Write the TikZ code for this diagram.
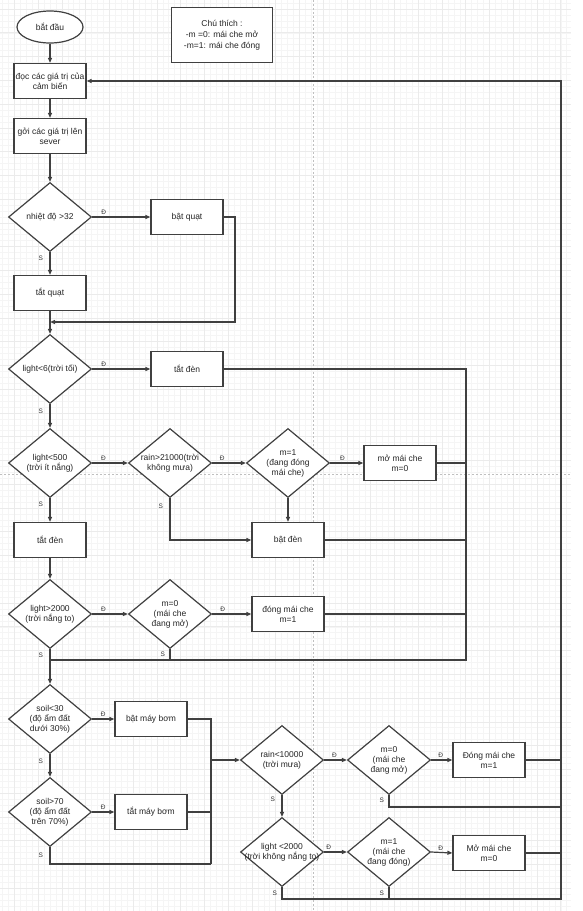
\documentclass[tikz,border=0pt]{standalone}
\usepackage{fontspec}
\setmainfont{Liberation Sans}
\usetikzlibrary{arrows.meta,shapes.geometric,positioning,calc}

\tikzset{
  box/.style={draw=black!75, line width=1.2pt, fill=white, minimum width=72, minimum height=35,
    align=center, inner sep=1pt, text=black!85, font=\fontsize{8.5}{10}\selectfont},
  cond/.style={draw=black!75, line width=1.2pt, fill=white, diamond, minimum width=83,
    minimum height=69, inner sep=0pt},
  ctext/.style={align=center, inner sep=0pt, text=black!85, font=\fontsize{8.5}{10}\selectfont},
  yn/.style={inner sep=1.5pt, text=black!80, font=\fontsize{6.5}{7}\selectfont},
  flow/.style={draw=black!75, line width=1.2pt},
  arr/.style={flow, -{Triangle[length=5pt,width=4pt]}},
}

\begin{document}
\begin{tikzpicture}[x=1pt,y=-1pt]
\useasboundingbox (0,0) rectangle (583,911);
% background grid and page breaks
\foreach \i in {0,...,95} \draw[black!4, line width=0.5pt] ({2.42+5.94*\i},0) -- ++(0,911);
\foreach \i in {0,...,152} \draw[black!4, line width=0.5pt] (0,{3.06+5.94*\i}) -- ++(571,0);
\foreach \i in {0,...,23} \draw[black!8, line width=0.6pt] ({14.3+23.76*\i},0) -- ++(0,911);
\foreach \i in {0,...,37} \draw[black!8, line width=0.6pt] (0,{9+23.76*\i}) -- ++(571,0);
\draw[black!25, dash pattern=on 2pt off 2pt] (313,0) -- (313,911);
\draw[black!25, dash pattern=on 2pt off 2pt] (0,474) -- (571,474);

% start and legend
\node[box, ellipse, minimum width=66, minimum height=32] (start) at (50,27) {bắt đầu};
\node[box, minimum width=101, minimum height=55, font=\fontsize{8.5}{11}\selectfont] (note) at (222,35)
  {Chú thích :\\-m =0: mái che mở\\-m=1: mái che đóng};

% main column
\node[box] (doc) at (50,81) {đọc các giá trị của\\cảm biến};
\node[box] (gui) at (50,136) {gởi các giá trị lên\\sever};
\node[cond, label={[ctext]center:nhiệt độ >32}] (temp) at (50,217) {};
\node[box] (batquat) at (187,217) {bật quạt};
\node[box] (tatquat) at (50,293) {tắt quạt};
\coordinate (jq) at (50,322);
\coordinate (qr) at (235,322);

% light
\node[cond, label={[ctext]center:light<6(trời tối)}] (dark) at (50,369) {};
\node[box] (tatden1) at (187,369) {tắt đèn};
\node[cond, label={[ctext]center:{light<500\\(trời ít nắng)}}] (dim) at (50,463) {};
\node[cond, label={[ctext]center:{rain>21000(trời\\không mưa)}}] (dry) at (170,463) {};
\node[cond, label={[ctext]center:{m=1\\(đang đóng\\mái che)}}] (shut1) at (288,463) {};
\node[box] (momai) at (400,463) {mở mái che\\m=0};
\node[box] (batden) at (288,540) {bật đèn};
\node[box] (tatden2) at (50,540) {tắt đèn};
\node[cond, label={[ctext]center:{light>2000\\(trời nắng to)}}] (sun) at (50,614) {};
\node[cond, label={[ctext]center:{m=0\\(mái che\\đang mở)}}] (open1) at (170,614) {};
\node[box] (dongmai) at (288,614) {đóng mái che\\m=1};
\coordinate (lb) at (466,660);
\coordinate (lj) at (50,660);

% soil
\node[cond, label={[ctext]center:{soil<30\\(độ ẩm đất\\dưới 30\%)}}] (soil1) at (50,719) {};
\node[box] (bom1) at (151,719) {bật máy bơm};
\node[cond, label={[ctext]center:{soil>70\\(độ ẩm đất\\trên 70\%)}}] (soil2) at (50,812) {};
\node[box] (bom2) at (151,812) {tắt máy bơm};
\coordinate (sb) at (211,864);
\coordinate (sj) at (211,760);

% roof
\node[cond, label={[ctext]center:{rain<10000\\(trời mưa)}}] (wet) at (282,760) {};
\node[cond, label={[ctext]center:{m=0\\(mái che\\đang mở)}}] (open2) at (389,760) {};
\node[box] (dong2) at (489,760) {Đóng mái che\\m=1};
\node[cond, label={[ctext]center:{light <2000\\(trời không nắng to)}}] (cloud) at (282,852) {};
\node[cond, label={[ctext]center:{m=1\\(mái che\\đang đóng)}}] (shut2) at (389,852) {};
\node[box] (mo2) at (489,853) {Mở mái che\\m=0};
\coordinate (rb) at (561,899);
\coordinate (rm) at (561,807);

% connectors
\draw[arr] (start) -- (doc);
\draw[arr] (doc) -- (gui);
\draw[arr] (gui) -- (temp.north);
\draw[arr] (temp.east) -- node[yn, above, pos=0.2] (d1) {Đ} (batquat.west);
\draw[arr] (temp.south) -- node[yn, left=5pt, pos=0.25] (s1) {S} (tatquat.north);
\draw[arr] (batquat.east) -| (qr) -- (jq);
\draw[arr] (tatquat.south) -- (dark.north);

\draw[arr] (dark.east) -- node[yn, above, pos=0.2] (d2) {Đ} (tatden1.west);
\draw[arr] (dark.south) -- node[yn, left=5pt, pos=0.3] (s2) {S} (dim.north);
\draw[flow] (tatden1.east) -| (lb) -- (lj);
\draw[arr] (dim.east) -- node[yn, above, pos=0.32] (d3) {Đ} (dry.west);
\draw[arr] (dry.east) -- node[yn, above, pos=0.3] (d4) {Đ} (shut1.west);
\draw[arr] (shut1.east) -- node[yn, above, pos=0.37] (d5) {Đ} (momai.west);
\draw[flow] (momai.east) -- (momai.east -| lb);
\draw[arr] (dry.south) |- node[yn, left=5pt, pos=0.1] (s3) {S} (batden.west);
\draw[arr] (shut1.south) -- (batden.north);
\draw[flow] (batden.east) -- (batden.east -| lb);
\draw[arr] (dim.south) -- node[yn, left=5pt, pos=0.25] (s4) {S} (tatden2.north);
\draw[arr] (tatden2.south) -- (sun.north);
\draw[arr] (sun.east) -- node[yn, above, pos=0.32] (d6) {Đ} (open1.west);
\draw[arr] (open1.east) -- node[yn, above, pos=0.27] (d7) {Đ} (dongmai.west);
\draw[flow] (dongmai.east) -- (dongmai.east -| lb);
\draw[flow] (open1.south) -- node[yn, left=3pt, pos=0.5] (s5) {S} (open1.south |- lb);
\draw[arr] (sun.south) -- node[yn, left=5pt, pos=0.17] (s6) {S} (soil1.north);

\draw[arr] (soil1.east) -- node[yn, above, pos=0.5] (d8) {Đ} (bom1.west);
\draw[arr] (soil1.south) -- node[yn, left=5pt, pos=0.3] (s7) {S} (soil2.north);
\draw[arr] (soil2.east) -- node[yn, above, pos=0.5] (d9) {Đ} (bom2.west);
\draw[flow] (bom1.east) -| (sb);
\draw[flow] (bom2.east) -- (bom2.east -| sb);
\draw[flow] (soil2.south) |- node[yn, left=5pt, pos=0.25] (s8) {S} (sb);
\draw[arr] (sj) -- (wet.west);

\draw[arr] (wet.east) -- node[yn, above, pos=0.45] (d10) {Đ} (open2.west);
\draw[arr] (open2.east) -- node[yn, above, pos=0.45] (d11) {Đ} (dong2.west);
\draw[flow] (dong2.east) -- (dong2.east -| rb);
\draw[flow] (open2.south) |- node[yn, left=3pt, pos=0.2] (s9) {S} (rm);
\draw[arr] (wet.south) -- node[yn, left=5pt, pos=0.2] (s10) {S} (cloud.north);
\draw[arr] (cloud.east) -- node[yn, above, pos=0.2] (d12) {Đ} (shut2.west);
\draw[arr] (shut2.east) -- node[yn, above, pos=0.45] (d13) {Đ} (mo2.west);
\draw[flow] (mo2.east) -- (mo2.east -| rb);
\draw[flow] (shut2.south) -- node[yn, left=3pt, pos=0.5] (s11) {S} (shut2.south |- rb);
\draw[arr] (cloud.south) |- node[yn, left=3pt, pos=0.25] (s12) {S} (rb) |- (doc.east);
\end{tikzpicture}
\end{document}
